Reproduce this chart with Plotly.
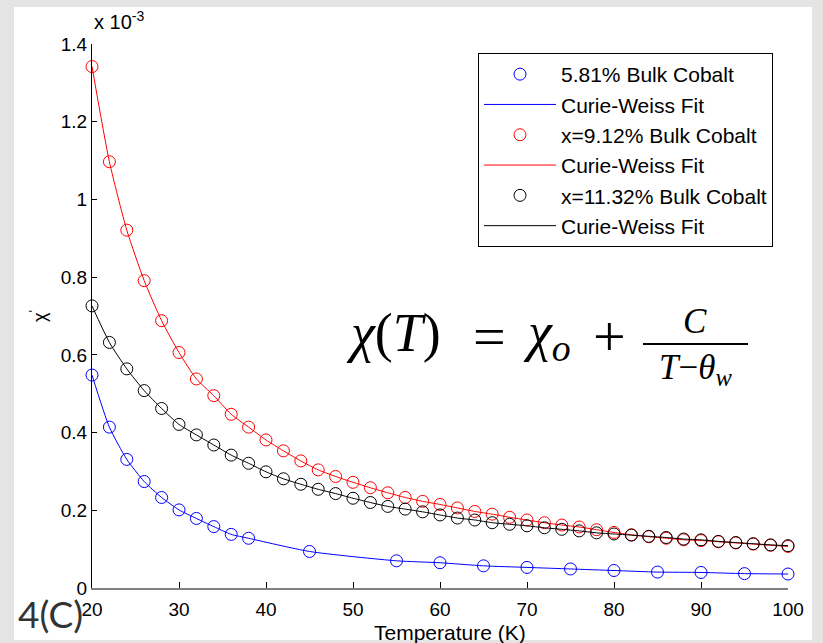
import plotly.graph_objects as go

# ---------------- data (chi' in units of 1e-3) ----------------
T_blue = [20, 22, 24, 26, 28, 30, 32, 34, 36, 38, 45, 55, 60, 65, 70, 75, 80, 85, 90, 95, 100]
chi_blue = [0.548, 0.414, 0.331, 0.274, 0.233, 0.201, 0.179, 0.158, 0.138, 0.128, 0.094,
            0.070, 0.065, 0.057, 0.053, 0.049, 0.045, 0.041, 0.040, 0.037, 0.036]

T_red = [20, 22, 24, 26, 28, 30, 32, 34, 36, 38, 40, 42, 44, 46, 48, 50, 52, 54, 56, 58, 60,
         62, 64, 66, 68, 70, 72, 74, 76, 78, 80, 82, 84, 86, 88, 90, 92, 94, 96, 98, 100]
chi_red = [1.342, 1.097, 0.921, 0.791, 0.688, 0.606, 0.538, 0.495, 0.447, 0.414, 0.381,
           0.353, 0.327, 0.304, 0.287, 0.272, 0.258, 0.245, 0.233, 0.223, 0.215,
           0.206, 0.197, 0.190, 0.182, 0.175, 0.168, 0.162, 0.157, 0.150, 0.143,
           0.137, 0.132, 0.128, 0.124, 0.122, 0.119, 0.116, 0.113, 0.110, 0.107]

T_black = T_red
chi_black = [0.726, 0.632, 0.564, 0.508, 0.462, 0.421, 0.394, 0.368, 0.342, 0.321, 0.299,
             0.281, 0.267, 0.254, 0.243, 0.231, 0.220, 0.210, 0.203, 0.196, 0.188,
             0.180, 0.175, 0.168, 0.164, 0.160, 0.155, 0.151, 0.147, 0.142, 0.139,
             0.136, 0.133, 0.130, 0.126, 0.124, 0.120, 0.117, 0.114, 0.111, 0.109]

series_names = ["5.81% Bulk Cobalt", "x=9.12% Bulk Cobalt", "x=11.32% Bulk Cobalt"]
fit_name = "Curie-Weiss Fit"
x_ticks = [20, 30, 40, 50, 60, 70, 80, 90, 100]
y_ticks = [0, 0.2, 0.4, 0.6, 0.8, 1.0, 1.2, 1.4]
y_ticktext = ["0", "0.2", "0.4", "0.6", "0.8", "1", "1.2", "1.4"]

# ---------------- layout geometry ----------------
W, H = 823, 643
L, R, TOP, B = 92, 35, 44, 55
PW, PH = W - L - R, H - TOP - B

def px(x):
    return (x - L) / PW

def py(y):
    return (H - B - y) / PH

FONT = "Liberation Sans, Arial, sans-serif"
SERIF = "Liberation Serif, Times New Roman, serif"

fig = go.Figure()
groups = [(T_blue, chi_blue, "#0000ff", series_names[0]),
          (T_red, chi_red, "#ff0000", series_names[1]),
          (T_black, chi_black, "#000000", series_names[2])]
for T, chi, col, name in groups:
    fig.add_trace(go.Scatter(x=T, y=chi, mode="markers", name=name,
                             marker=dict(symbol="circle-open", size=12,
                                         color=col, line=dict(width=1, color=col)),
                             cliponaxis=False))
    fig.add_trace(go.Scatter(x=T, y=chi, mode="lines", name=fit_name,
                             line=dict(color=col, width=1, shape="spline", smoothing=0.6)))

fig.update_layout(
    width=W, height=H, autosize=False,
    margin=dict(l=L, r=R, t=TOP, b=B),
    paper_bgcolor="#e4e4e4", plot_bgcolor="white",
    font=dict(family=FONT, color="black", size=19),
    showlegend=True,
    legend=dict(x=px(478), y=py(53), xanchor="left", yanchor="top",
                bgcolor="white", bordercolor="black", borderwidth=1,
                font=dict(family=FONT, size=21, color="black"),
                itemwidth=72, tracegroupgap=0, traceorder="normal"),
    xaxis=dict(range=[20, 100], tickvals=x_ticks, showline=True, linecolor="#808080",
               linewidth=2, ticks="inside", ticklen=6, tickcolor="black", tickwidth=1,
               showgrid=False, zeroline=False, ticklabelstandoff=3,
               tickfont=dict(family=FONT, size=19, color="black")),
    yaxis=dict(range=[0, 1.4], tickvals=y_ticks, ticktext=y_ticktext, showline=True,
               linecolor="black", linewidth=1, ticks="inside", ticklen=5,
               tickcolor="black", tickwidth=1, showgrid=False, zeroline=False,
               ticklabelstandoff=0, tickfont=dict(family=FONT, size=19, color="black")),
)

# white panel behind the figure
fig.add_shape(type="rect", xref="paper", yref="paper", layer="below",
              x0=px(14), x1=px(812), y0=py(640), y1=py(7),
              fillcolor="white", line=dict(width=0))

ann = []
ann.append(dict(text="x 10<sup>-3</sup>", x=px(92), y=py(35), xanchor="left", yanchor="bottom",
                font=dict(family=FONT, size=20, color="black")))
ann.append(dict(text="Temperature (K)", x=px(450), y=py(632), xanchor="center", yanchor="middle",
                font=dict(family=FONT, size=21, color="black")))
ann.append(dict(text="χ<sup>'</sup>", x=px(38), y=py(316), xanchor="center", yanchor="middle",
                textangle=-90, font=dict(family=FONT, size=18, color="black")))
ann.append(dict(text="4(C)", x=px(50), y=py(613), xanchor="center", yanchor="middle",
                font=dict(family="Lato, Open Sans, sans-serif", size=37, color="#333333")))
# formula
ann.append(dict(text="<i>χ</i>(<i>T</i>)", x=px(344), y=py(333), xanchor="left", yanchor="middle",
                font=dict(family=SERIF, size=54, color="black")))
ann.append(dict(text="=", x=px(489), y=py(336), xanchor="center", yanchor="middle",
                font=dict(family=SERIF, size=58, color="black")))
ann.append(dict(text="<i>χ<sub>o</sub></i>", x=px(521), y=py(335), xanchor="left", yanchor="middle",
                font=dict(family=SERIF, size=54, color="black")))
ann.append(dict(text="+", x=px(609), y=py(336), xanchor="center", yanchor="middle",
                font=dict(family=SERIF, size=58, color="black")))
ann.append(dict(text="<i>C</i>", x=px(695), y=py(321), xanchor="center", yanchor="middle",
                font=dict(family=SERIF, size=35, color="black")))
ann.append(dict(text="<i>T</i>−<i>θ<sub>w</sub></i>", x=px(695), y=py(369), xanchor="center",
                yanchor="middle", font=dict(family=SERIF, size=35, color="black")))
for a in ann:
    a.update(xref="paper", yref="paper", showarrow=False)
    fig.add_annotation(**a)

fig.add_shape(type="line", xref="paper", yref="paper", x0=px(643), x1=px(748),
              y0=py(344), y1=py(344), line=dict(color="black", width=2))

fig.write_html("out.html", config={"displayModeBar": False},
               post_script="document.body.style.margin='0';document.body.style.overflow='hidden';")
